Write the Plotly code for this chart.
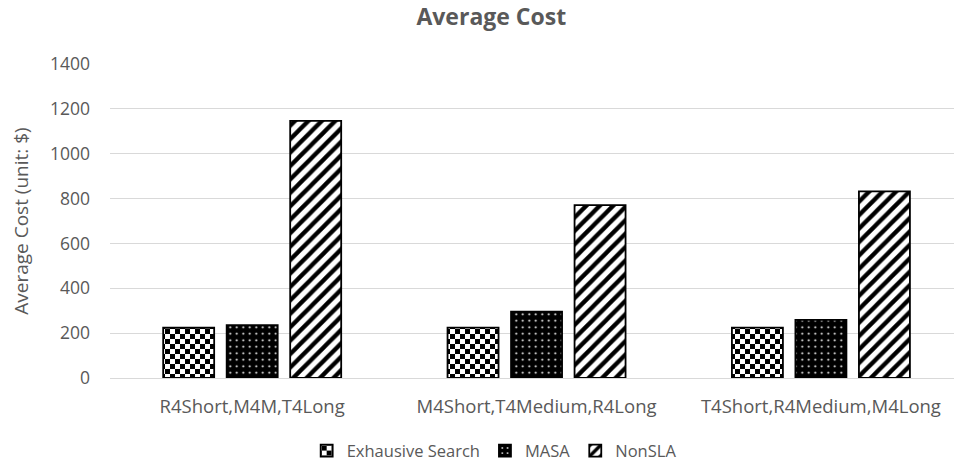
import plotly.graph_objects as go

# Workload mixes and per-method average cost (unit: $)
categories = ["R4Short,M4M,T4Long", "M4Short,T4Medium,R4Long", "T4Short,R4Medium,M4Long"]
exhaustive = [224, 225, 225]
masa = [236, 296, 259]
nonsla = [1146, 771, 832]
y_ticks = [0, 200, 400, 600, 800, 1000, 1200, 1400]

GRAY = "#595959"
FONT = "Open Sans"

fig = go.Figure()

# Exhaustive Search: checkerboard fill (a "+" pattern is the fallback; the
# post script swaps in a true checkerboard)
fig.add_trace(go.Bar(
    name="Exhausive Search", x=categories, y=exhaustive,
    marker=dict(color="white", line=dict(color="black", width=1.8),
                pattern=dict(shape="+", fgcolor="black", bgcolor="white",
                             size=10, solidity=0.5, fillmode="replace")),
))
# MASA: black with white dots
fig.add_trace(go.Bar(
    name="MASA", x=categories, y=masa,
    marker=dict(color="black", line=dict(color="black", width=1.8),
                pattern=dict(shape=".", fgcolor="white", bgcolor="black",
                             size=6.5, solidity=0.08, fillmode="replace")),
))
# NonSLA: diagonal hatch
fig.add_trace(go.Bar(
    name="NonSLA", x=categories, y=nonsla,
    marker=dict(color="white", line=dict(color="black", width=1.8),
                pattern=dict(shape="/", fgcolor="black", bgcolor="white",
                             size=9.5, solidity=0.45, fillmode="replace")),
))

fig.update_layout(
    width=954, height=461,
    margin=dict(l=110, r=0, t=64, b=83),
    paper_bgcolor="white", plot_bgcolor="white",
    font=dict(family=FONT, color=GRAY, size=17),
    barmode="group", bargap=0.33, bargroupgap=0.197,
    title=dict(text="<b>Average Cost</b>", x=0.515, xref="container", xanchor="center",
               y=0.964, yref="container", yanchor="middle",
               font=dict(family=FONT, size=23, color=GRAY)),
    showlegend=True,
    legend=dict(orientation="h", xref="container", yref="container",
                x=0.518, xanchor="center", y=0.022, yanchor="middle",
                font=dict(family=FONT, size=16.5, color=GRAY),
                itemwidth=30, tracegroupgap=0),
)

fig.update_xaxes(
    type="category", range=[-0.5, 2.468],
    showline=True, linecolor="#d9d9d9", linewidth=1,
    showgrid=False, ticks="", ticklabelstandoff=12,
    tickfont=dict(family=FONT, size=18.5, color=GRAY),
)
fig.update_yaxes(
    range=[0, 1400], tickvals=y_ticks,
    showgrid=True, gridcolor="#d9d9d9", gridwidth=1,
    zeroline=False, showline=False, ticks="", ticklabelstandoff=19,
    tickfont=dict(family=FONT, size=17.5, color=GRAY),
    title=dict(text="Average Cost (unit: $)", standoff=16,
               font=dict(family=FONT, size=19, color=GRAY)),
)

checker_js = """
var gd = document.getElementById('{plot_id}');
function checkerize() {
  if (!gd) return;
  var NS = 'http://www.w3.org/2000/svg';
  var svg = gd.querySelector('svg.main-svg');
  if (!svg) return;
  var defs = svg.querySelector('defs');
  if (!defs) { defs = document.createElementNS(NS, 'defs'); svg.insertBefore(defs, svg.firstChild); }
  if (!document.getElementById('checker-fill')) {
    var p = document.createElementNS(NS, 'pattern');
    p.setAttribute('id', 'checker-fill');
    p.setAttribute('patternUnits', 'userSpaceOnUse');
    p.setAttribute('width', 10); p.setAttribute('height', 10);
    [[0, 0, 10, 10, 'white'], [0, 0, 5, 5, 'black'], [5, 5, 5, 5, 'black']].forEach(function (c) {
      var r = document.createElementNS(NS, 'rect');
      r.setAttribute('x', c[0]); r.setAttribute('y', c[1]);
      r.setAttribute('width', c[2]); r.setAttribute('height', c[3]);
      r.setAttribute('fill', c[4]);
      p.appendChild(r);
    });
    defs.appendChild(p);
  }
  var traces = gd.querySelectorAll('.barlayer .trace');
  if (traces.length) {
    traces[0].querySelectorAll('path').forEach(function (el) { el.style.fill = 'url(#checker-fill)'; });
  }
  var items = gd.querySelectorAll('.legend .traces');
  if (items.length) {
    items[0].querySelectorAll('.legendpoints path').forEach(function (el) { el.style.fill = 'url(#checker-fill)'; });
  }
}
checkerize();
if (gd && gd.on) gd.on('plotly_afterplot', checkerize);
setTimeout(checkerize, 50);
setTimeout(checkerize, 300);
"""

fig.write_html("out.html", post_script=checker_js)
